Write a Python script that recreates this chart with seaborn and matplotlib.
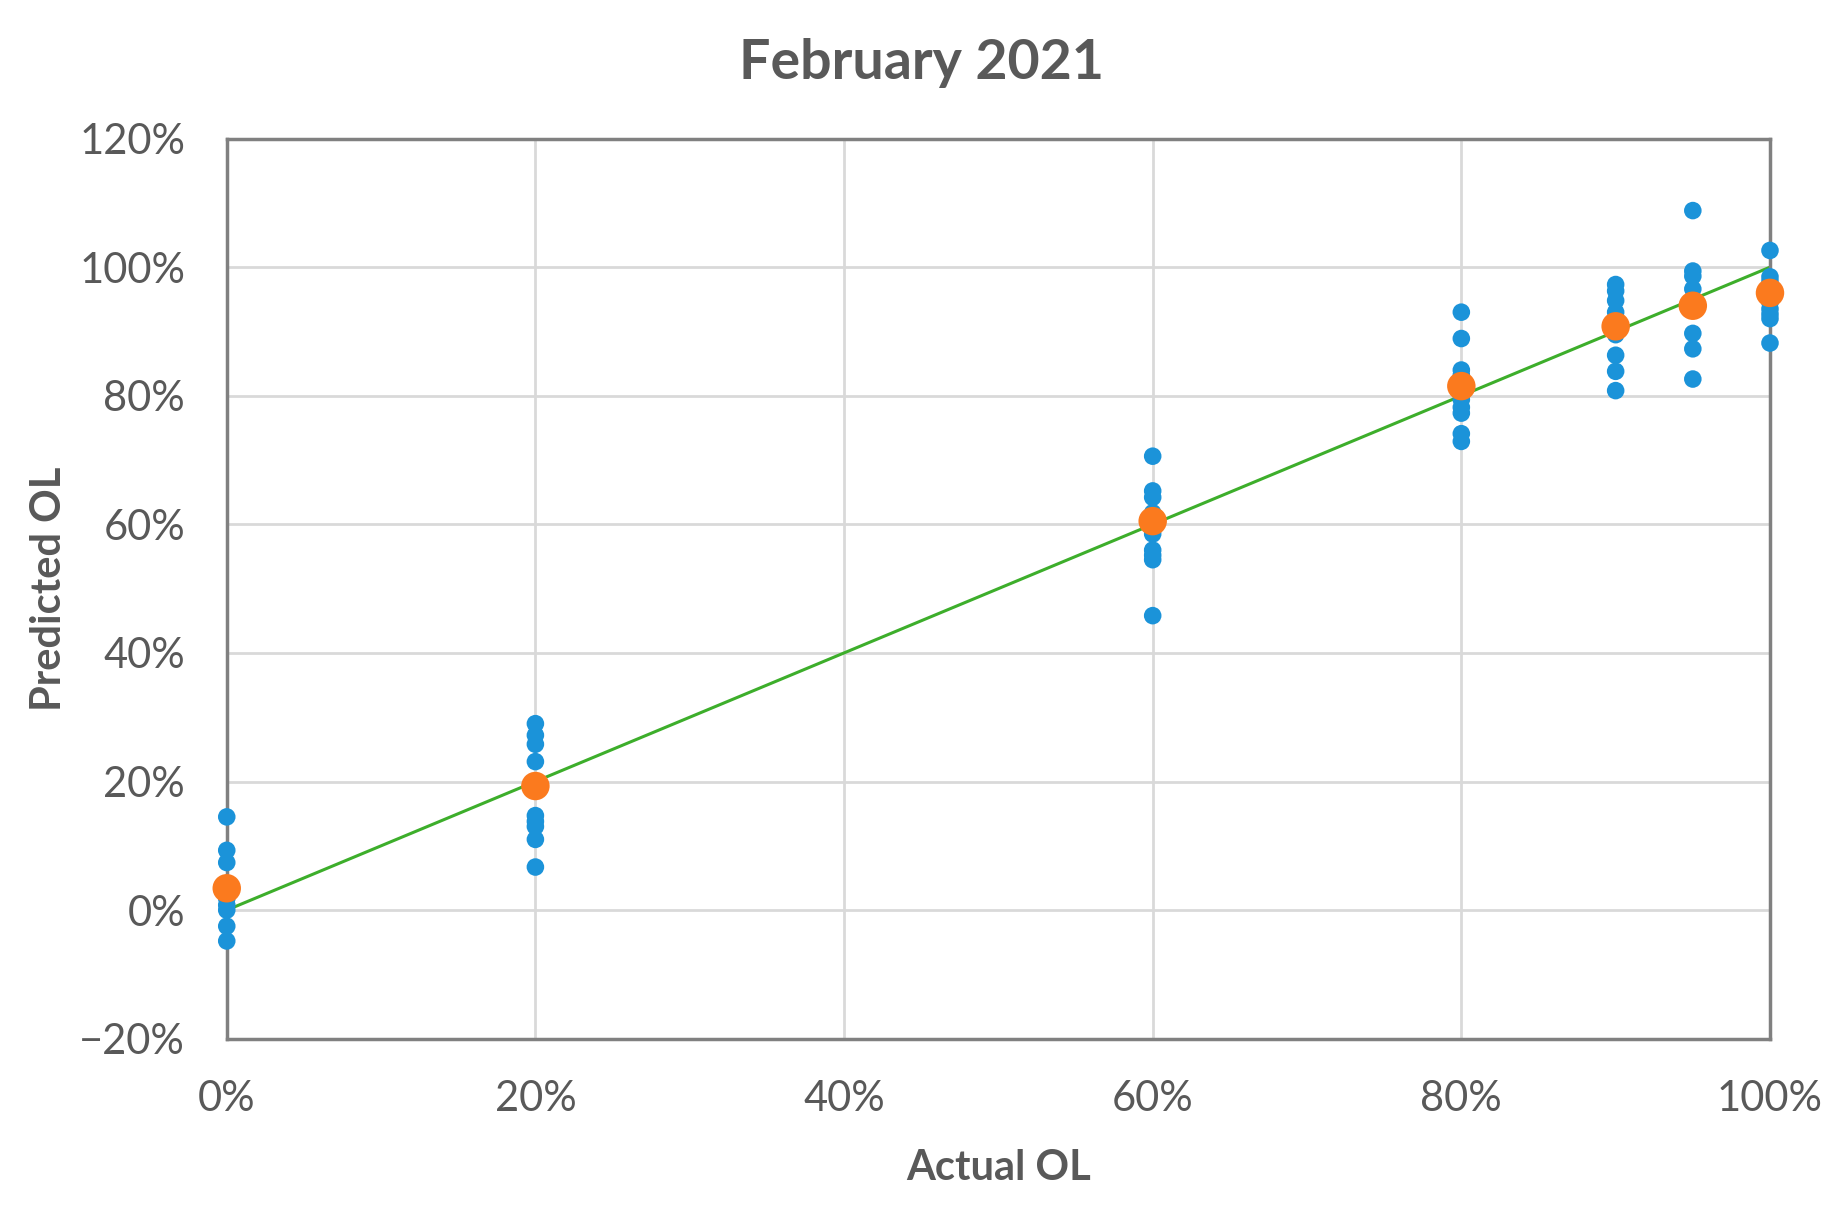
import pandas as pd
import seaborn as sns
import matplotlib.pyplot as plt
from matplotlib.ticker import FuncFormatter

# Actual OL levels (%) and predicted values
actual_levels = [0, 20, 60, 80, 90, 95, 100]
pred_0 = [14.5, 9.3, 7.4, 1.8, 0.8, 0.0, -2.5, -4.8]
pred_20 = [29.0, 27.2, 25.8, 23.1, 14.7, 13.8, 13.0, 11.0, 6.7]
pred_60 = [70.6, 65.2, 64.2, 61.8, 59.5, 58.5, 56.0, 55.2, 54.5, 45.8]
pred_80 = [93.0, 88.9, 84.0, 83.2, 79.4, 78.2, 77.3, 74.1, 72.9]
pred_90 = [97.3, 96.3, 94.8, 93.0, 90.5, 89.5, 86.3, 83.8, 80.8]
pred_95 = [108.8, 99.4, 98.6, 96.6, 94.0, 89.7, 87.3, 82.6]
pred_100 = [102.6, 98.5, 97.8, 94.5, 93.5, 92.7, 92.0, 88.2]
mean_pred = [3.4, 19.3, 60.5, 81.5, 90.8, 94.0, 96.0]

groups = [pred_0, pred_20, pred_60, pred_80, pred_90, pred_95, pred_100]
rows = []
for lvl, vals in zip(actual_levels, groups):
    for v in vals:
        rows.append({'actual': lvl, 'predicted': v})
df = pd.DataFrame(rows)
df_mean = pd.DataFrame({'actual': actual_levels, 'predicted': mean_pred})

sns.set_style('white')
plt.rcParams['font.family'] = ['Lato', 'DejaVu Sans']
text_col = '#595959'

fig = plt.figure(figsize=(18.42, 12.05), dpi=100)
ax = fig.add_axes([0.1231, 0.138, 0.8378, 0.747])

# ideal line
ax.plot([0, 100], [0, 100], color='#3DAE2B', lw=2.2, zorder=2)
sns.scatterplot(data=df, x='actual', y='predicted', ax=ax, color='#1B93D9',
                s=160, edgecolor='none', zorder=3, clip_on=False)
sns.scatterplot(data=df_mean, x='actual', y='predicted', ax=ax, color='#FB7A1E',
                s=420, edgecolor='none', zorder=4, clip_on=False)

ax.set_xlim(0, 100)
ax.set_ylim(-20, 120)
ax.set_xticks(range(0, 101, 20))
ax.set_yticks(range(-20, 121, 20))
pct = FuncFormatter(lambda v, p: f'{int(v)}%'.replace('-', '\u2212'))
ax.xaxis.set_major_formatter(pct)
ax.yaxis.set_major_formatter(pct)
ax.tick_params(axis='both', length=0, labelsize=30, labelcolor=text_col)
ax.tick_params(axis='x', pad=30)
ax.tick_params(axis='y', pad=30)
ax.grid(True, color='#D9D9D9', lw=2)
ax.set_axisbelow(True)
for sp in ax.spines.values():
    sp.set_color('#808080')
    sp.set_linewidth(2.5)

ax.set_xlabel('Actual OL', fontsize=30, fontweight='bold', color=text_col, labelpad=22)
ax.set_ylabel('Predicted OL', fontsize=30, fontweight='bold', color=text_col, labelpad=8)
fig.text(0.5, 0.948, 'February 2021', ha='center', va='center', fontsize=40,
         fontweight='bold', color=text_col)

fig.savefig('out.png', dpi=100)
